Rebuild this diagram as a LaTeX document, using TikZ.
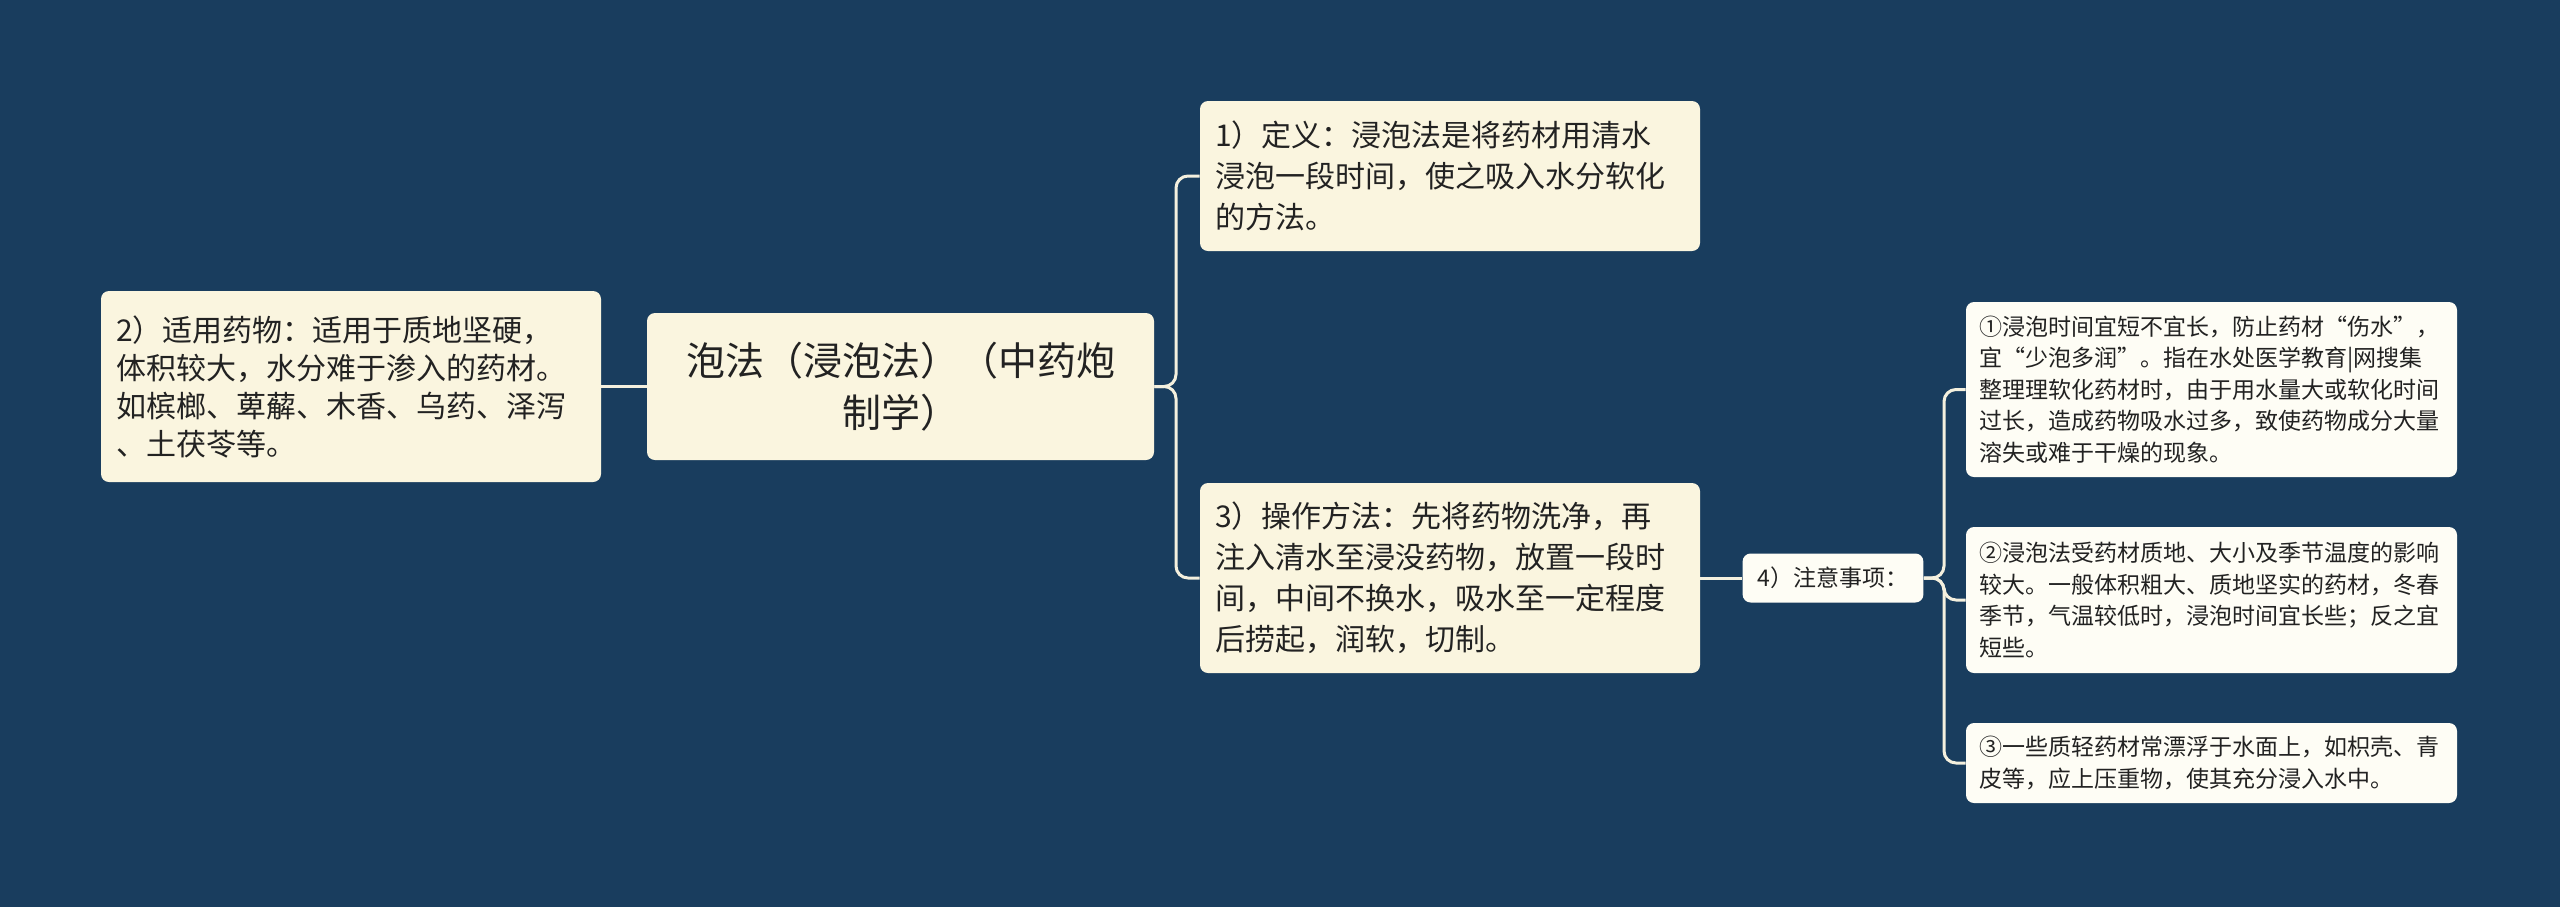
\documentclass[tikz,border=0pt]{standalone}
\usepackage{fontspec}
\setmainfont{Noto Sans CJK SC}
\definecolor{bg}{HTML}{193D5E}
\definecolor{boxA}{HTML}{FAF5DF}
\definecolor{boxB}{HTML}{FEFDF5}
\definecolor{txt}{HTML}{222222}
\definecolor{wire}{HTML}{F4F0DE}
\tikzset{
  basebox/.style={rectangle, rounded corners=4pt, draw=none, text=txt, inner ysep=0pt, inner xsep=7.5pt},
  mainbox/.style={basebox, fill=boxA, align=left, text width=235pt, font=\fontsize{15pt}{20.5pt}\selectfont},
  leftbox/.style={basebox, fill=boxA, align=left, text width=235pt, font=\fontsize{15pt}{19pt}\selectfont},
  rootbox/.style={basebox, fill=boxA, align=center, text width=238pt, font=\fontsize{19.5pt}{26pt}\selectfont},
  smallbox/.style={basebox, fill=boxB, align=left, text width=232pt, inner xsep=6.5pt, font=\fontsize{11.5pt}{15.75pt}\selectfont},
  tagbox/.style={basebox, fill=boxB, align=center, font=\fontsize{11.5pt}{13pt}\selectfont},
  wirestyle/.style={draw=wire, line width=1.5pt, rounded corners=6pt}
}
\begin{document}
\begin{tikzpicture}[x=0.5pt,y=-0.5pt]
\fill[bg] (0,0) rectangle (2560,907);
\useasboundingbox (0,0) rectangle (2560,907);
\node[leftbox, minimum width=250pt, minimum height=95.5pt] (n2) at (351,386.5) {2）适用药物：适用于质地坚硬，\\体积较大，水分难于渗入的药材。\\如槟榔、萆薢、木香、乌药、泽泻\\、土茯苓等。};
\node[rootbox, minimum width=253.5pt, minimum height=73.5pt] (c) at (900.5,386.5) {泡法（浸泡法）（中药炮\\制学）};
\node[mainbox, minimum width=250pt, minimum height=75pt] (n1) at (1450,176) {1）定义：浸泡法是将药材用清水\\浸泡一段时间，使之吸入水分软化\\的方法。};
\node[mainbox, minimum width=250pt, minimum height=95pt] (n3) at (1450,578) {3）操作方法：先将药物洗净，再\\注入清水至浸没药物，放置一段时\\间，中间不换水，吸水至一定程度\\后捞起，润软，切制。};
\node[tagbox, minimum width=89pt, minimum height=24.5pt] (n4) at (1833,578) {4）注意事项：};
\node[smallbox, minimum width=245.5pt, minimum height=87.5pt] (s1) at (2211.5,389.5) {①浸泡时间宜短不宜长，防止药材“伤水”，\\宜“少泡多润”。指在水处医学教育|网搜集\\整理理软化药材时，由于用水量大或软化时间\\过长，造成药物吸水过多，致使药物成分大量\\溶失或难于干燥的现象。};
\node[smallbox, minimum width=245.5pt, minimum height=73pt] (s2) at (2211.5,600) {②浸泡法受药材质地、大小及季节温度的影响\\较大。一般体积粗大、质地坚实的药材，冬春\\季节，气温较低时，浸泡时间宜长些；反之宜\\短些。};
\node[smallbox, minimum width=245.5pt, minimum height=40pt] (s3) at (2211.5,763) {③一些质轻药材常漂浮于水面上，如枳壳、青\\皮等，应上压重物，使其充分浸入水中。};
\coordinate (t1) at (1176,386.5);
\coordinate (t2) at (1944,578);
\draw[wirestyle] (c.west) -- (n2.east);
\draw[wirestyle] (c.east) -- (t1) |- (n1.west);
\draw[wirestyle] (c.east) -- (t1) |- (n3.west);
\draw[wirestyle] (n3.east) -- (n4.west);
\draw[wirestyle] (n4.east) -- (t2) |- (s1.west);
\draw[wirestyle] (n4.east) -- (t2) |- (s2.west);
\draw[wirestyle] (n4.east) -- (t2) |- (s3.west);
\end{tikzpicture}
\end{document}
